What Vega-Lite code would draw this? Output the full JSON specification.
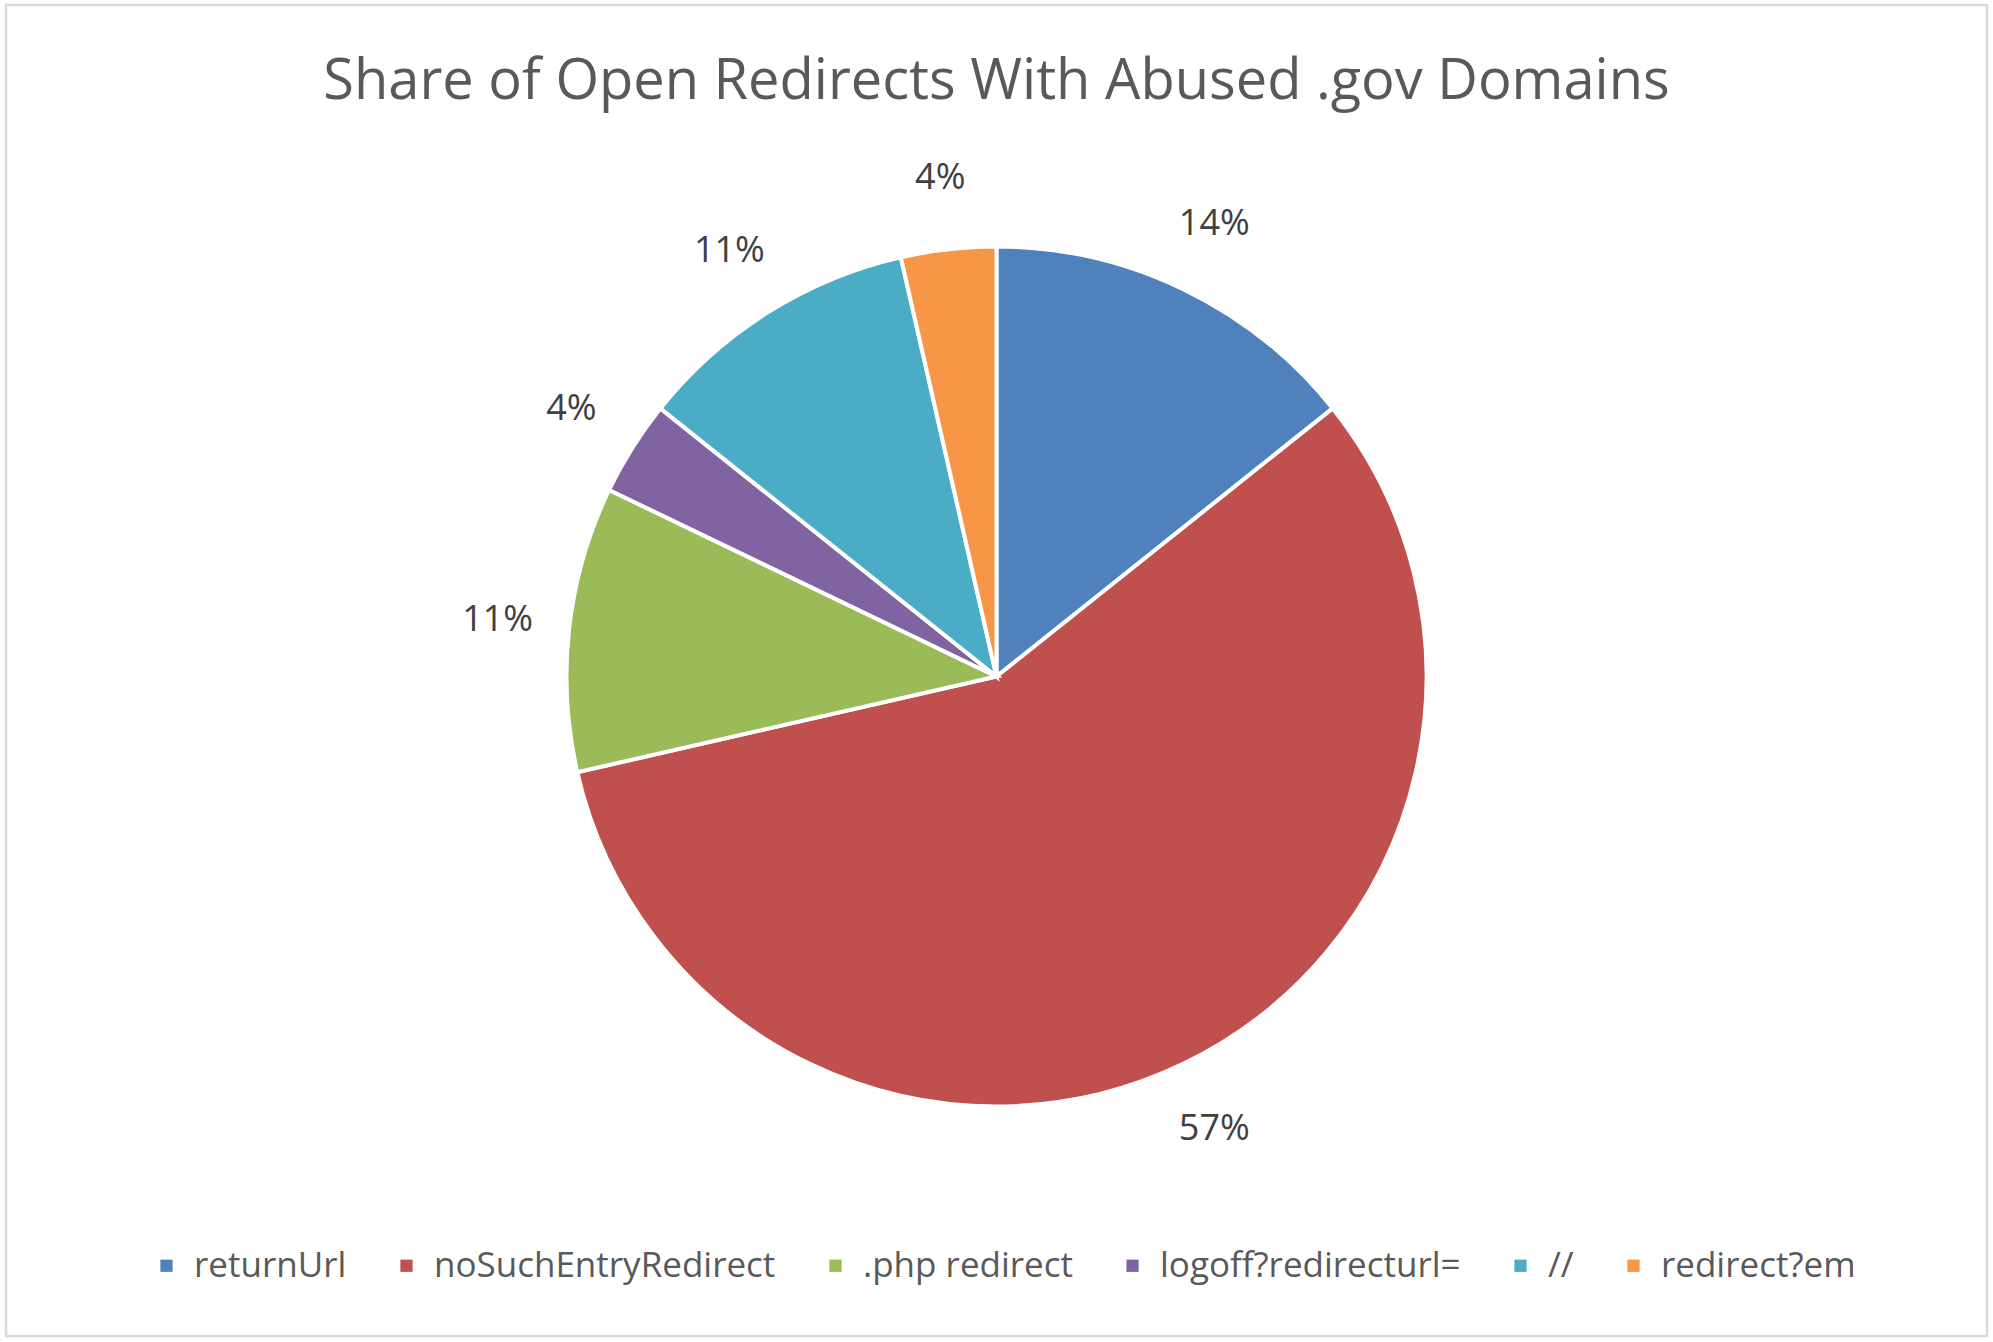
{
  "$schema": "https://vega.github.io/schema/vega-lite/v6.json",
  "width": 1981,
  "height": 1331,
  "autosize": {"type": "none"},
  "padding": {"left": 6, "top": 5, "right": 6, "bottom": 6},
  "background": "white",
  "config": {"view": {"stroke": null}, "font": "Open Sans"},
  "title": {
    "text": "Share of Open Redirects With Abused .gov Domains",
    "fontSize": 56,
    "font": "Open Sans",
    "fontWeight": "normal",
    "color": "#595959",
    "anchor": "middle",
    "frame": "group",
    "baseline": "middle",
    "offset": -75,
    "dy": 59
  },
  "layer": [
    {
      "data": {"values": [{"frame": 1}]},
      "mark": {"type": "rect", "fill": null, "stroke": "#d9d9d9", "strokeWidth": 2.5},
      "encoding": {}
    },
    {
      "data": {
        "values": [
          {"type": "returnUrl", "count": 4, "order": 1, "label": "14%"},
          {"type": "noSuchEntryRedirect", "count": 16, "order": 2, "label": "57%"},
          {"type": ".php redirect", "count": 3, "order": 3, "label": "11%"},
          {"type": "logoff?redirecturl=", "count": 1, "order": 4, "label": "4%"},
          {"type": "//", "count": 3, "order": 5, "label": "11%"},
          {"type": "redirect?em", "count": 1, "order": 6, "label": "4%"}
        ]
      },
      "encoding": {
        "theta": {"field": "count", "type": "quantitative", "stack": true},
        "order": {"field": "order", "type": "quantitative"}
      },
      "layer": [
        {
          "mark": {"type": "arc", "outerRadius": 430, "stroke": "white", "strokeWidth": 4, "yOffset": 6},
          "encoding": {
            "color": {
              "field": "type",
              "type": "nominal",
              "scale": {
                "domain": ["returnUrl", "noSuchEntryRedirect", ".php redirect", "logoff?redirecturl=", "//", "redirect?em"],
                "range": ["#4f81bd", "#c0504d", "#9bbb59", "#8064a2", "#4bacc6", "#f79646"]
              },
              "legend": {
                "orient": "none",
                "legendX": 143,
                "legendY": 1243,
                "direction": "horizontal",
                "title": null,
                "symbolType": "square",
                "symbolSize": 150,
                "symbolStrokeWidth": 0,
                "labelFontSize": 35,
                "labelFont": "Open Sans",
                "labelColor": "#595959",
                "labelLimit": 600,
                "columnPadding": 42,
                "labelOffset": 10,
                "padding": 0
              }
            }
          }
        },
        {
          "mark": {"type": "text", "radius": 502, "fontSize": 36, "color": "#404040", "yOffset": 6, "font": "Open Sans"},
          "encoding": {"text": {"field": "label", "type": "nominal"}}
        }
      ]
    }
  ]
}
